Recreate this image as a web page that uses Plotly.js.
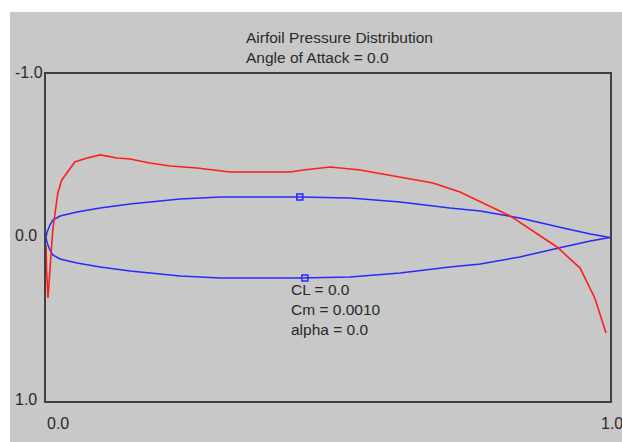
<!DOCTYPE html>
<html>
<head>
<meta charset="utf-8">
<script src="https://cdn.plot.ly/plotly-3.0.1.min.js"></script>
<style>
  html, body { margin: 0; padding: 0; background: #ffffff; }
  #chart { width: 622px; height: 442px; }
</style>
</head>
<body>
<div id="chart"></div>
<script>
// Chord position (x/c) and airfoil shape, upper surface
var upperX = [0.000, 0.002, 0.007, 0.012, 0.025, 0.055, 0.096, 0.149, 0.238, 0.309, 0.450, 0.539, 0.628, 0.716, 0.770, 0.840, 0.917, 0.965, 1.000];
var upperY = [0.000, -0.034, -0.076, -0.107, -0.131, -0.156, -0.180, -0.205, -0.235, -0.248, -0.248, -0.242, -0.217, -0.180, -0.162, -0.119, -0.058, -0.021, 0.000];
// Lower surface
var lowerX = [0.000, 0.002, 0.007, 0.012, 0.025, 0.055, 0.096, 0.149, 0.238, 0.309, 0.450, 0.539, 0.628, 0.716, 0.770, 0.840, 0.917, 0.965, 1.000];
var lowerY = [0.000, 0.034, 0.076, 0.107, 0.131, 0.156, 0.180, 0.205, 0.235, 0.248, 0.248, 0.242, 0.217, 0.180, 0.162, 0.119, 0.058, 0.021, 0.000];
// Pressure coefficient distribution
var cpX = [0.000, 0.001, 0.0035, 0.007, 0.012, 0.021, 0.028, 0.051, 0.073, 0.096, 0.126, 0.149, 0.184, 0.220, 0.268, 0.326, 0.379, 0.433, 0.456, 0.504, 0.557, 0.628, 0.686, 0.734, 0.770, 0.823, 0.906, 0.947, 0.973, 0.993];
var cpY = [0.046, 0.199, 0.370, 0.180, -0.046, -0.272, -0.352, -0.462, -0.486, -0.505, -0.486, -0.480, -0.456, -0.437, -0.425, -0.401, -0.401, -0.401, -0.413, -0.431, -0.413, -0.370, -0.333, -0.278, -0.217, -0.132, 0.058, 0.187, 0.370, 0.584];
// Marker points on the surfaces
var markX = [0.450, 0.459];
var markY = [-0.248, 0.248];
// Tick labels
var yTickVals = [-1, 0, 1];
var yTickText = ["-1.0", "0.0", "1.0"];
var xTickVals = [0, 1];
var xTickText = ["0.0", "1.0"];
// Title and coefficients
var titleLines = ["Airfoil Pressure Distribution", "Angle of Attack = 0.0"];
var statLines = ["CL = 0.0", "Cm = 0.0010", "alpha = 0.0"];

var blue = "rgb(40,40,255)";
var red = "rgb(255,30,30)";
var txt = "#2a2a2a";
var fontFam = "Liberation Sans, Arial, sans-serif";

var traces = [
  {x: upperX, y: upperY, mode: "lines", line: {color: blue, width: 1.5}, hoverinfo: "skip"},
  {x: lowerX, y: lowerY, mode: "lines", line: {color: blue, width: 1.5}, hoverinfo: "skip"},
  {x: cpX, y: cpY, mode: "lines", line: {color: red, width: 1.6}, hoverinfo: "skip"},
  {x: markX, y: markY, mode: "markers", marker: {symbol: "square-open", size: 6, color: blue, line: {width: 1.5, color: blue}}, hoverinfo: "skip"}
];

var annotations = [];
var yShift = 2;
yTickVals.forEach(function (v, i) {
  annotations.push({xref: "paper", yref: "y", x: -33 / 564, y: v, xanchor: "left", yanchor: "middle",
    yshift: yShift, text: yTickText[i], showarrow: false, font: {family: fontFam, size: 16, color: txt}});
});
var xShifts = [-1, -11];
xTickVals.forEach(function (v, i) {
  annotations.push({xref: "x", yref: "paper", x: v, y: -22 / 327, xanchor: "left", yanchor: "middle",
    xshift: xShifts[i], text: xTickText[i], showarrow: false, font: {family: fontFam, size: 16, color: txt}});
});
annotations.push({xref: "paper", yref: "paper", x: 243 / 564, y: 122 / 327, xanchor: "left", yanchor: "top",
  align: "left", text: statLines.join("<br>"), showarrow: false, font: {family: fontFam, size: 15.5, color: txt}});

var layout = {
  width: 622, height: 442,
  margin: {l: 46, r: 12, t: 74, b: 41, pad: 0},
  paper_bgcolor: "#c8c8c8",
  plot_bgcolor: "#c8c8c8",
  showlegend: false,
  title: {text: titleLines.join("<br>"), xref: "paper", x: 200 / 564, xanchor: "left",
    yref: "container", y: 1 - 43 / 442, yanchor: "top", font: {family: fontFam, size: 15.5, color: txt}},
  xaxis: {range: [0, 1], autorange: false, showgrid: false, zeroline: false, showticklabels: false, ticks: "",
    showline: true, mirror: true, linecolor: "#404040", linewidth: 2, fixedrange: true},
  yaxis: {range: [1, -1], autorange: false, showgrid: false, zeroline: false, showticklabels: false, ticks: "",
    showline: true, mirror: true, linecolor: "#404040", linewidth: 2, fixedrange: true},
  annotations: annotations,
  shapes: [
    {type: "rect", xref: "paper", yref: "paper", x0: -0.2, x1: -36 / 564, y0: -0.3, y1: 1.4, fillcolor: "#ffffff", line: {width: 0}, layer: "above"},
    {type: "rect", xref: "paper", yref: "paper", x0: -0.2, x1: 1.2, y0: 389 / 327, y1: 1.4, fillcolor: "#ffffff", line: {width: 0}, layer: "above"}
  ]
};

Plotly.newPlot("chart", traces, layout, {displayModeBar: false, staticPlot: true});
</script>
</body>
</html>
